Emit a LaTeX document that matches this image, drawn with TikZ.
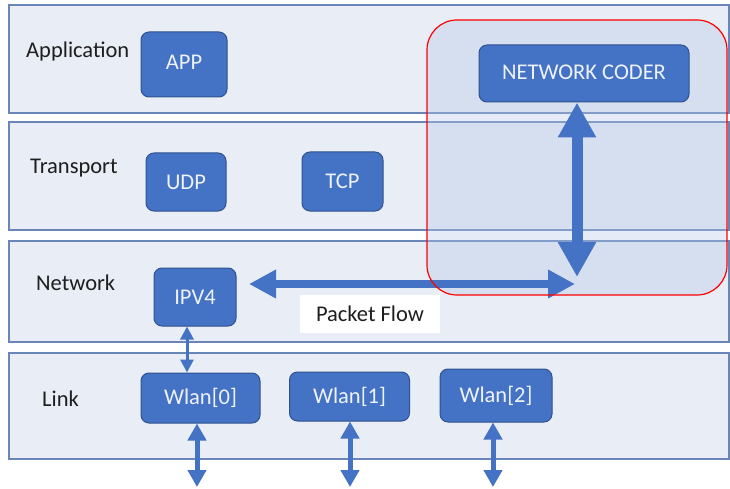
\documentclass[tikz,border=0pt]{standalone}
\usepackage{fontspec}
\setmainfont{Carlito}
\usetikzlibrary{arrows.meta}
\definecolor{bandfill}{HTML}{E9EDF6}
\definecolor{bandline}{HTML}{6A86B8}
\definecolor{boxfill}{HTML}{4472C4}
\definecolor{boxline}{HTML}{2F528F}
\definecolor{boxtext}{HTML}{EEF2FA}
\definecolor{zonefill}{HTML}{B4C7E7}
\definecolor{labeltext}{HTML}{1E1E1E}

\begin{document}
\begin{tikzpicture}[x=1pt,y=-1pt,
  font=\fontsize{22.5}{26}\selectfont,
  layer/.style={draw=bandline, line width=1.5pt, fill=bandfill},
  proto/.style={draw=boxline, line width=1pt, fill=boxfill, rounded corners=8pt,
    text=boxtext, inner sep=0pt},
  layername/.style={anchor=west, text=labeltext, inner sep=0pt},
  bigflow/.style={draw=boxfill, line width=11pt,
    {Triangle[width=36pt,length=35pt]}-{Triangle[width=36pt,length=35pt]}},
  flowline/.style={draw=boxfill, line width=8pt,
    {Triangle[width=27pt,length=27pt]}-{Triangle[width=27pt,length=27pt]}},
  linkflow/.style={draw=boxfill, line width=5pt,
    {Triangle[width=18pt,length=17pt]}-{Triangle[width=18pt,length=17pt]}},
  tinyflow/.style={draw=boxfill, line width=3pt,
    {Triangle[width=13pt,length=13pt]}-{Triangle[width=13pt,length=13pt]}},
]
\useasboundingbox (0,0) rectangle (730,489);

% protocol layers
\path[layer] (9,5) rectangle (729,113);
\path[layer] (9,122) rectangle (729,230);
\path[layer] (9,241) rectangle (729,342);
\path[layer] (9,353) rectangle (729,459);

% network coder zone (fill)
\fill[zonefill, fill opacity=0.35, rounded corners=30pt] (427,20) rectangle (727,295);

% layer names
\node[layername] (lapp) at (26,52) {Application};
\node[layername] (ltra) at (30,168) {Transport};
\node[layername] (lnet) at (36,283) {Network};
\node[layername] (llnk) at (42,399) {Link};

% protocol blocks
\node[proto, minimum width=86pt, minimum height=65pt] (app) at (184,64.5) {\raisebox{5pt}{APP}};
\node[proto, minimum width=210pt, minimum height=57pt] (coder) at (584,73.5) {\raisebox{2pt}{NETWORK CODER}};
\node[proto, minimum width=80pt, minimum height=58pt] (udp) at (186,182) {UDP};
\node[proto, minimum width=81pt, minimum height=59pt] (tcp) at (342.5,181.5) {TCP};
\node[proto, minimum width=82pt, minimum height=58pt] (ipv4) at (195,297) {IPV4};
\node[proto, minimum width=119pt, minimum height=50pt] (wlan0) at (200.5,398) {Wlan[0]};
\node[proto, minimum width=120pt, minimum height=49pt] (wlan1) at (349.5,396.5) {Wlan[1]};
\node[proto, minimum width=112pt, minimum height=53pt] (wlan2) at (496,395.5) {Wlan[2]};

% packet flow label
\node[fill=white, minimum width=140pt, minimum height=38pt, inner sep=0pt,
  text=labeltext] (flowlbl) at (370,314) {Packet Flow};

% connector anchors
\coordinate (vtip) at (577,277);
\coordinate (htip) at (575,284);
\coordinate (hstart) at (249,284);
\coordinate (v0) at (187,0);
\coordinate (d0) at (197,487);
\coordinate (d1) at (350,487);
\coordinate (d2) at (493,487);

% flows
\draw[bigflow] (coder.south -| vtip) -- (vtip);
\draw[flowline] (hstart) -- (htip);
\draw[tinyflow] (ipv4.south -| v0) -- (wlan0.north -| v0);
\draw[linkflow] (wlan0.south -| d0) -- (d0);
\draw[linkflow] (wlan1.south -| d1) -- (d1);
\draw[linkflow] (wlan2.south -| d2) -- (d2);

% network coder zone (outline)
\draw[red, line width=1.2pt, rounded corners=30pt] (427,20) rectangle (727,295);
\end{tikzpicture}
\end{document}
